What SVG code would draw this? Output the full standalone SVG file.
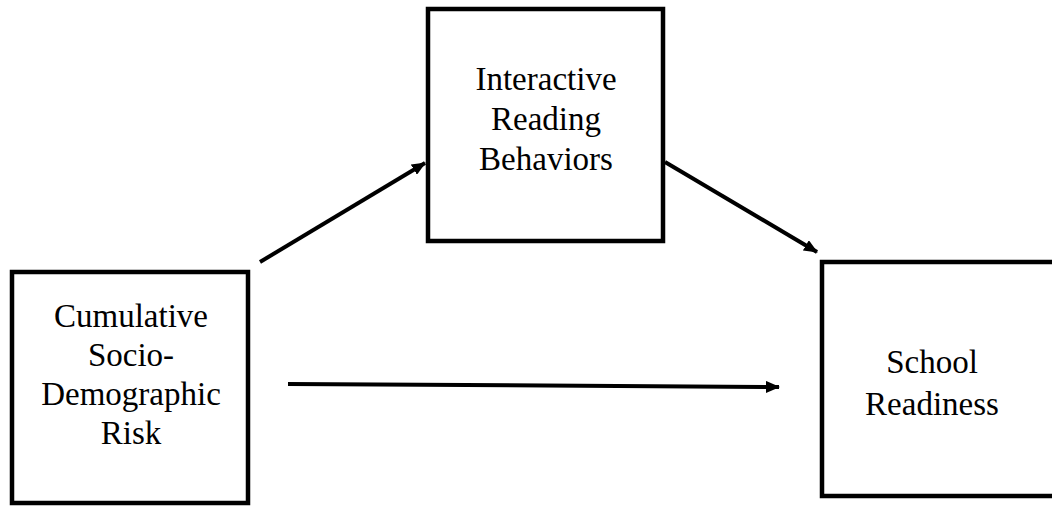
<svg xmlns="http://www.w3.org/2000/svg" width="1052" height="508" viewBox="0 0 1052 508">
<style>
.box{fill:#fff;stroke:#000;stroke-width:4.5}
.lbl{font-family:"Liberation Serif","Times New Roman",serif;font-size:33px;fill:#000;text-anchor:middle}
.edge{stroke:#000;stroke-width:4;fill:none;marker-end:url(#ah)}
</style>
<defs>
<marker id="ah" markerUnits="userSpaceOnUse" markerWidth="14" markerHeight="12" refX="13" refY="6" orient="auto">
<path d="M0,0 L14,6 L0,12 Z" fill="#000"/>
</marker>
</defs>
<rect width="1052" height="508" fill="#fff"/>
<g id="connectors">
<line class="edge" x1="260" y1="262" x2="425" y2="163"/>
<line class="edge" x1="665" y1="162" x2="817" y2="252"/>
<line class="edge" x1="288" y1="384" x2="779" y2="387"/>
</g>
<g id="risk">
<rect class="box" x="12" y="272" width="236" height="231"/>
<text class="lbl" x="131" y="327">Cumulative</text>
<text class="lbl" x="131" y="366">Socio-</text>
<text class="lbl" x="131" y="405">Demographic</text>
<text class="lbl" x="131" y="444">Risk</text>
</g>
<g id="reading">
<rect class="box" x="428" y="9" width="235" height="232"/>
<text class="lbl" x="546" y="90">Interactive</text>
<text class="lbl" x="546" y="130">Reading</text>
<text class="lbl" x="546" y="170">Behaviors</text>
</g>
<g id="readiness">
<rect class="box" x="822" y="262" width="240" height="234"/>
<text class="lbl" x="932" y="373">School</text>
<text class="lbl" x="932" y="415">Readiness</text>
</g>
</svg>
